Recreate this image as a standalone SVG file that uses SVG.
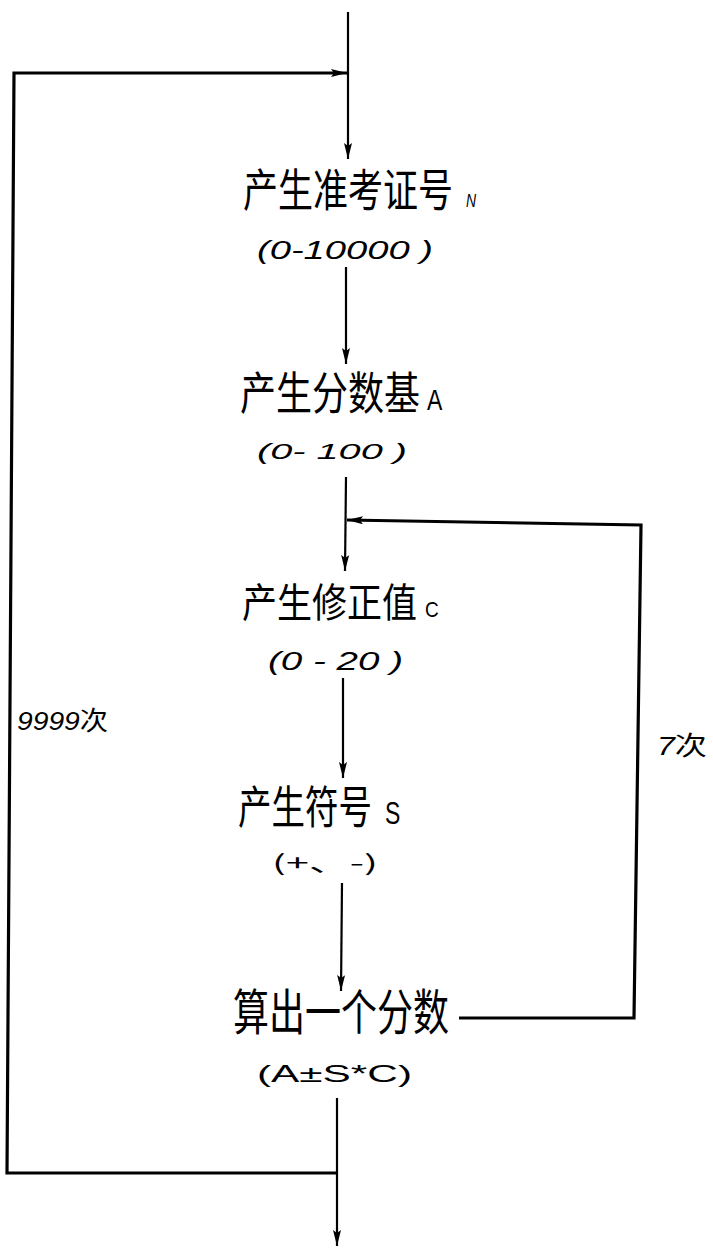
<svg xmlns="http://www.w3.org/2000/svg" width="713" height="1248" viewBox="0 0 713 1248">
<defs>
<marker id="ah" viewBox="0 0 16 8" refX="16" refY="4" markerWidth="16" markerHeight="8" markerUnits="userSpaceOnUse" orient="auto">
<path d="M0,0 L16,4 L0,8 L3,4 Z" fill="#000"/>
</marker>
<style>
.cn{font-family:"Noto Sans CJK SC","Noto Sans CJK JP",sans-serif;fill:#000;font-weight:400}
.lat{font-family:"Liberation Sans","DejaVu Sans",sans-serif;fill:#000}
.it{font-style:italic}
.flow{stroke:#000;stroke-width:2.2;fill:none}
.loop{stroke:#000;stroke-width:3.2;fill:none;stroke-linejoin:miter}
</style>
</defs>
<rect width="713" height="1248" fill="#fff"/>
<g id="connectors">
<line class="flow" x1="348" y1="12" x2="348" y2="159" marker-end="url(#ah)"/>
<polyline class="loop" points="337,1173 7,1173 14,73 347,73" marker-end="url(#ah)"/>
<line class="flow" x1="346" y1="267" x2="346" y2="364" marker-end="url(#ah)"/>
<line class="flow" x1="346" y1="477" x2="345" y2="571" marker-end="url(#ah)"/>
<polyline class="loop" points="459,1018 634,1018 641,525 347,520" marker-end="url(#ah)"/>
<line class="flow" x1="343" y1="678" x2="343" y2="778" marker-end="url(#ah)"/>
<line class="flow" x1="342" y1="883" x2="341" y2="991" marker-end="url(#ah)"/>
<line class="flow" x1="337" y1="1098" x2="337" y2="1246" marker-end="url(#ah)"/>
</g>
<g id="node-n">
<text class="cn" transform="translate(243,207) scale(1,1.3)" font-size="35">产生准考证号<tspan class="lat it" x="223" font-size="14">N</tspan></text>
<text class="lat it" x="257" y="259" font-size="26" textLength="176" lengthAdjust="spacingAndGlyphs">(0-10000 )</text>
</g>
<g id="node-a">
<text class="cn" transform="translate(240,410) scale(1,1.25)" font-size="36">产生分数基<tspan class="lat" x="187" font-size="23">A</tspan></text>
<text class="lat it" x="257" y="459" font-size="22" textLength="150" lengthAdjust="spacingAndGlyphs">(0- 100 )</text>
</g>
<g id="node-c">
<text class="cn" transform="translate(242,617) scale(1,1.15)" font-size="35">产生修正值<tspan class="lat" x="183" font-size="19">C</tspan></text>
<text class="lat it" x="268" y="670" font-size="26" textLength="135" lengthAdjust="spacingAndGlyphs">(0 - 20 )</text>
</g>
<g id="node-s">
<text class="cn" transform="translate(238,824) scale(1,1.35)" font-size="33.5">产生符号<tspan class="lat" x="147" font-size="23">S</tspan></text>
<text class="cn" x="272" y="871" font-size="22" textLength="106" lengthAdjust="spacingAndGlyphs">(+、-)</text>
</g>
<g id="node-score">
<text class="cn" transform="translate(233,1030) scale(1,1.35)" font-size="36">算出一个分数</text>
<text class="lat" x="257" y="1082" font-size="24" textLength="155" lengthAdjust="spacingAndGlyphs">(A±S*C)</text>
</g>
<g id="labels">
<text class="cn" x="17" y="730" font-size="26" textLength="91" lengthAdjust="spacingAndGlyphs"><tspan class="lat it">9999</tspan>次</text>
<text class="cn" x="657" y="755" font-size="26" textLength="50" lengthAdjust="spacingAndGlyphs"><tspan class="lat it">7</tspan>次</text>
</g>
</svg>
